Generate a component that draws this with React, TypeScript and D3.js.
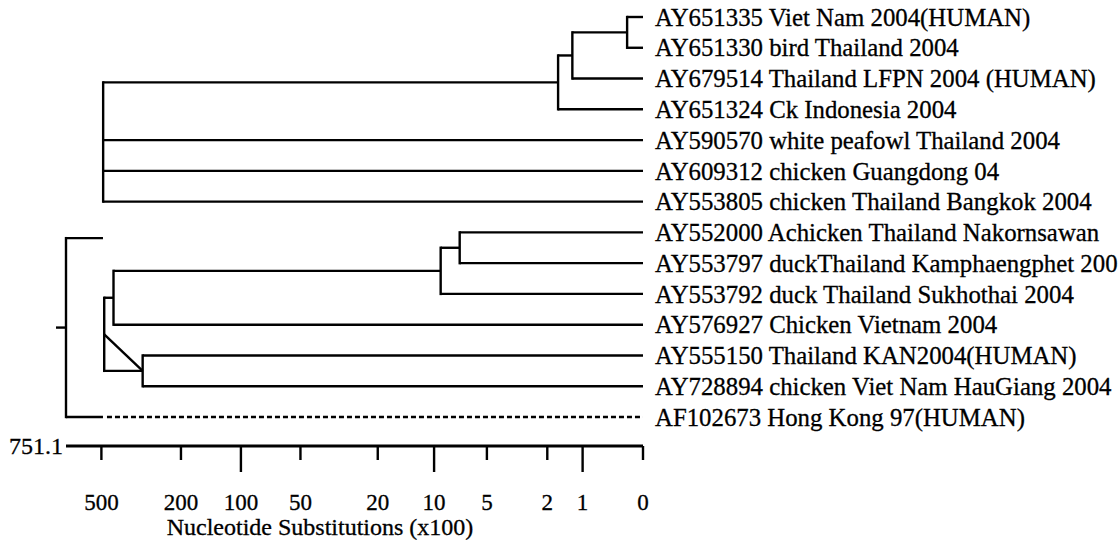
import React from "react";
import * as d3 from "d3";

// ---- data ----
const leafLabels: string[] = [
  "AY651335 Viet Nam 2004(HUMAN)",
  "AY651330 bird Thailand 2004",
  "AY679514 Thailand LFPN 2004 (HUMAN)",
  "AY651324 Ck Indonesia 2004",
  "AY590570 white peafowl Thailand 2004",
  "AY609312 chicken Guangdong 04",
  "AY553805 chicken Thailand Bangkok 2004",
  "AY552000 Achicken Thailand Nakornsawan",
  "AY553797 duckThailand Kamphaengphet 200",
  "AY553792 duck Thailand Sukhothai 2004",
  "AY576927 Chicken Vietnam 2004",
  "AY555150 Thailand KAN2004(HUMAN)",
  "AY728894 chicken Viet Nam HauGiang 2004",
  "AF102673 Hong Kong 97(HUMAN)",
];

// internal nodes: id, height (nucleotide substitutions x100), children (leaf index or node id)
const nodeIds = ["T1", "T2", "T3", "TOP", "A", "B", "C", "D", "E", "IN", "ROOT"];
const nodeHeights = [0.2, 1.25, 1.65, 490, 7.2, 9.2, 435, 311, 484, 491, 751.1];
const nodeChildren: (number | string)[][] = [
  [0, 1],
  ["T1", 2],
  ["T2", 3],
  ["T3", 4, 5, 6],
  [7, 8],
  ["A", 9],
  ["B", 10],
  [11, 12],
  ["C", "D"],
  ["TOP", "E"],
  ["IN", 13],
];
const hiddenJoins = ["IN"];
const dashedLeaves = [13];
const diagonalLinks: [string, string][] = [["E", "D"]];

const axisMax = 751.1;
const tickValues = [500, 200, 100, 50, 20, 10, 5, 2, 1, 0];
const majorTicks = [100, 10, 1];
const axisTitle = "Nucleotide Substitutions (x100)";

const W = 1120;
const H = 540;
const SERIF = "'Liberation Serif', 'Times New Roman', Times, serif";
const SW = 2.4;

export default function App() {
  const x = d3.scaleSymlog().constant(1).domain([axisMax, 0]).range([66, 643]);
  const yLeaf = d3.scaleLinear().domain([0, leafLabels.length - 1]).range([17, 417]);

  // compute node positions
  const pos: Record<string, { x: number; y: number }> = {};
  const getPos = (c: number | string) => {
    if (typeof c === "number") return { x: x(0), y: yLeaf(c) };
    return pos[c];
  };
  nodeIds.forEach((id, i) => {
    const kids = nodeChildren[i].map(getPos);
    const y = (kids[0].y + kids[kids.length - 1].y) / 2;
    pos[id] = { x: x(nodeHeights[i]), y };
  });

  const lines: any[] = [];
  nodeIds.forEach((id, i) => {
    const p = pos[id];
    const kids = nodeChildren[i];
    const kp = kids.map(getPos);
    if (!hiddenJoins.includes(id)) {
      lines.push(
        <line key={id + "v"} x1={p.x} x2={p.x} y1={kp[0].y - SW / 2} y2={kp[kp.length - 1].y + SW / 2}
          stroke="#000" strokeWidth={SW} />
      );
    }
    kids.forEach((k, j) => {
      const c = kp[j];
      if (typeof k === "number" && dashedLeaves.includes(k)) {
        const split = pos["IN"].x;
        lines.push(
          <line key={id + "h" + j + "s"} x1={p.x} x2={split} y1={c.y} y2={c.y}
            stroke="#000" strokeWidth={SW} />
        );
        lines.push(
          <line key={id + "h" + j + "d"} x1={split + 4} x2={c.x} y1={c.y} y2={c.y}
            stroke="#000" strokeWidth={SW} strokeDasharray="5,3" />
        );
      } else {
        lines.push(
          <line key={id + "h" + j} x1={p.x} x2={c.x} y1={c.y} y2={c.y}
            stroke="#000" strokeWidth={SW} />
        );
      }
    });
  });
  diagonalLinks.forEach(([a, b]) => {
    lines.push(
      <line key={a + b + "diag"} x1={pos[a].x} y1={pos[a].y} x2={pos[b].x} y2={pos[b].y}
        stroke="#000" strokeWidth={SW} />
    );
  });
  const root = pos["ROOT"];

  const axisY = 446;

  return (
    <svg width={W} height={H} style={{ position: "absolute", left: 0, top: 0, background: "#fff" }}
      fontFamily={SERIF}>
      <rect width={W} height={H} fill="#fff" />
      <g>
        {lines}
        <line x1={root.x - 10} x2={root.x} y1={root.y} y2={root.y} stroke="#000" strokeWidth={SW} />
      </g>
      <g>
        {leafLabels.map((t, i) => (
          <text key={t} x={655} y={yLeaf(i)} dy="0.35em" fontSize={24.8} fill="#000"
            stroke="#000" strokeWidth={0.3}>{t}</text>
        ))}
      </g>
      <g>
        <line x1={x(axisMax)} x2={x(0)} y1={axisY} y2={axisY} stroke="#000" strokeWidth={2.8} />
        <text x={x(axisMax) - 3} y={axisY} dy="0.35em" textAnchor="end" fontSize={24}
          stroke="#000" strokeWidth={0.3}>{axisMax}</text>
        {tickValues.map((v) => (
          <g key={v}>
            <line x1={x(v)} x2={x(v)} y1={axisY} y2={axisY + (majorTicks.includes(v) ? 26 : 14)}
              stroke="#000" strokeWidth={SW} />
            <text x={x(v)} y={510} textAnchor="middle" fontSize={23}
              stroke="#000" strokeWidth={0.3}>{v}</text>
          </g>
        ))}
        <text x={320} y={535} textAnchor="middle" fontSize={24}
          stroke="#000" strokeWidth={0.3}>{axisTitle}</text>
      </g>
    </svg>
  );
}
